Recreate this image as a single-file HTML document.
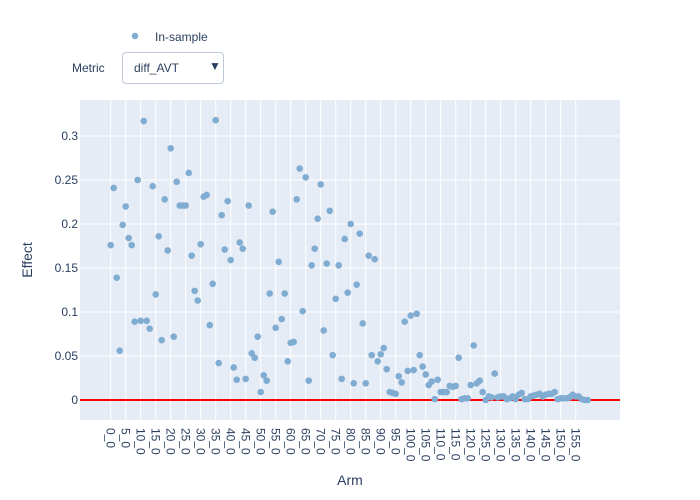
<!DOCTYPE html>
<html><head><meta charset="utf-8"><style>
body{margin:0;background:#fff;font-family:"Liberation Sans",sans-serif;}
#wrap{position:relative;width:700px;height:500px;}
svg{position:absolute;left:0;top:0;}
.dd{position:absolute;left:122px;top:52px;width:102px;height:32px;border:1px solid #bec8d9;border-radius:4px;background:#fff;font-size:12px;color:#2a3f5f;box-sizing:border-box;}
</style></head><body>
<div id="wrap">
<svg id="chart" width="700" height="500"></svg>
<div style="position:absolute;left:72px;top:61px;font-size:12px;color:#2a3f5f">Metric</div>
<div class="dd"><span style="position:absolute;left:11px;top:8px">diff_AVT</span><span style="position:absolute;left:86px;top:6px;font-size:12px">▼</span></div>
</div>
<script>
const values = [0.176,0.241,0.139,0.056,0.199,0.220,0.184,0.176,0.089,0.250,0.090,0.317,0.090,0.081,0.243,0.120,0.186,0.068,0.228,0.170,0.286,0.072,0.248,0.221,0.221,0.221,0.258,0.164,0.124,0.113,0.177,0.231,0.233,0.085,0.132,0.318,0.042,0.210,0.171,0.226,0.159,0.037,0.023,0.179,0.172,0.024,0.221,0.053,0.048,0.072,0.009,
0.028,0.022,0.121,0.214,0.082,0.157,0.092,0.121,0.044,0.065,0.066,0.228,0.263,0.101,0.253,0.022,0.153,0.172,0.206,0.245,0.079,0.155,0.215,0.051,0.115,0.153,0.024,0.183,0.122,0.200,0.019,0.131,0.189,0.087,0.019,0.164,0.051,0.160,0.044,0.052,0.059,0.035,0.009,0.008,0.007,0.027,0.020,0.089,0.033,0.096,0.034,0.098,
0.051,0.038,0.029,0.017,0.021,0.001,0.023,0.009,0.009,0.009,0.016,0.015,0.016,0.048,0.001,0.002,0.002,0.017,0.062,0.019,0.022,0.009,0.0,0.004,0.003,0.030,0.003,0.004,0.004,0.001,0.002,0.004,0.001,0.006,0.008,0.001,0.001,0.004,0.005,0.006,0.007,0.004,0.006,0.007,0.007,0.009,0.001,0.002,0.002,0.002,0.003,0.006,0.004,0.004,0.001,0.0,0.0];
const categories = values.map((v,i)=>i+"_0");
const yTicks = [0,0.05,0.1,0.15,0.2,0.25,0.3];
const yTickLabels = ["0","0.05","0.1","0.15","0.2","0.25","0.3"];

const svg=document.getElementById('chart');
const NS='http://www.w3.org/2000/svg';
const L=80,R=620,T=100,B=420;
const x=i=>110.7+3*i;
const y=v=>400-v*880;
function mk(t,a,txt){const e=document.createElementNS(NS,t);for(const k in a)e.setAttribute(k,a[k]);if(txt!==undefined)e.textContent=txt;svg.appendChild(e);return e;}
let bg=mk('rect',{x:L,y:T,width:R-L,height:B-T,fill:'#e5ecf6'});


categories.forEach((c,i)=>{if(i%5===0){
 let g=mk('line',{x1:x(i),x2:x(i),y1:T,y2:B,stroke:'#fff','stroke-width':1});
 
 
 let t=mk('text',{x:0,y:0,transform:`translate(${x(i)-4},428) rotate(90)`,'font-size':12,fill:'#2a3f5f'},c);
 
 
}});
yTicks.forEach((v,k)=>{
 let g=mk('line',{x1:L,x2:R,y1:y(v),y2:y(v),stroke:'#fff','stroke-width':1});
 
 
 let t=mk('text',{x:78,y:y(v)+4,'text-anchor':'end','font-size':12,fill:'#2a3f5f'},yTickLabels[k]);
 
 
});
let zl=mk('line',{x1:L,x2:R,y1:y(0),y2:y(0),stroke:'#ff0000','stroke-width':2});


values.forEach((v,i)=>{
 let c=mk('circle',{cx:x(i),cy:y(v),r:3.3,fill:'rgb(128,172,210)'});
 
 
});
let xt=mk('text',{x:350,y:485,'text-anchor':'middle','font-size':14,fill:'#2a3f5f'},'Arm');


let yt=mk('text',{x:0,y:0,transform:'translate(32,260) rotate(-90)','text-anchor':'middle','font-size':14,fill:'#2a3f5f'},'Effect');


let lm=mk('circle',{cx:135,cy:36,r:3.3,fill:'rgb(128,172,210)'});


let lt=mk('text',{x:155,y:41,'font-size':12,fill:'#2a3f5f'},'In-sample');


</script>
</body></html>
